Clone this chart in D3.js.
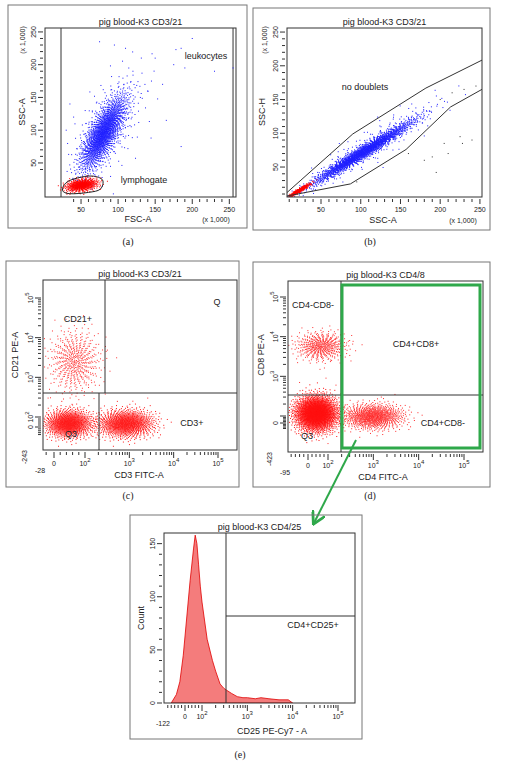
<!DOCTYPE html>
<html><head><meta charset="utf-8">
<script src="https://cdn.jsdelivr.net/npm/d3@7"></script>
<style>body{margin:0;background:#fff}text{font-family:"Liberation Sans",Arial,sans-serif;fill:#222}</style>
</head><body><svg id="fig" width="506" height="766"></svg>
<script>
// ---- data ----
// (a) FSC-A / SSC-A, values x1000; clusters given as value ranges (about +-2 sd)
var aClusters = [
  {x:[50,110], y:[40,150], n:1900, rho:0.75, col:"#1f1fff"},
  {x:[40,135], y:[20,190], n:260, rho:0.55, col:"#1f1fff"},
  {x:[30,72], y:[6,26], n:650, rho:0.3, col:"#ff0000"}
];
var aOutliers = [[75,235],[95,230],[110,225],[150,210],[175,200],[190,195],[185,225],[200,240],[160,170],[140,160],
  [130,150],[120,190],[230,190],[255,195],[165,115],[185,75],[145,175],[35,140],[40,120],[30,100],[212,213],[178,223]];
var aGate = [[25,8],[30,20],[45,27],[65,30],[79,24],[76,10],[60,5],[35,3]];
var aLines = [23,255];

// (b) SSC-A / SSC-H
var bClusters = [
  {x:[40,165], y:[25,118], n:2100, rho:0.975, col:"#1f1fff"},
  {x:[35,200], y:[20,150], n:200, rho:0.9, col:"#1f1fff"},
  {x:[9,36], y:[5,25], n:330, rho:0.95, col:"#ff0000"}
];
var bOutliers = [[180,60],[190,65],[205,85],[210,70],[225,95],[228,85],[240,90],[195,42],[160,70],[95,28],[255,145],[245,170],[230,165],[215,160],[200,150]];
var bUpper = [[7,12],[90,99],[182,167],[257,211]];
var bLower = [[7,7],[87,25],[157,76],[213,139],[257,168]];

// (c) CD3 FITC-A / CD21 PE-A
var cClusters = [
  {x:[-12,220], y:[400,16000], n:520, rho:0, col:"#ff3030"},
  {x:[-20,140], y:[-110,150], n:1300, rho:0, col:"#ff1a1a"},
  {x:[200,3500], y:[-110,150], n:1300, rho:0, col:"#ff1a1a"}
];
var cOutliers = [[300,4500],[310,3000],[290,6000],[1200,250],[2600,300],[4000,120],[60,200],[-15,300]];

// (d) CD4 FITC-A / CD8 PE-A
var dClusters = [
  {x:[-55,250], y:[2500,13000], n:520, rho:0, col:"#ff3030"},
  {x:[-60,160], y:[-120,320], n:2600, rho:0, col:"#ff1010"},
  {x:[220,4500], y:[-90,200], n:1000, rho:0, col:"#ff2a2a"}
];
var dOutliers = [[60,1500],[90,900],[120,2500],[150,600],[300,8000],[350,6500],[-40,700],[1500,300],[3000,350],[100,-300]];

// (e) CD25 PE-Cy7-A histogram
var eBins   = [-80,-50,-30,-10,10,30,50,60,70,80,90,100,130,170,200,250,300,350,450,600,800,1000,1500,2000,3000,5000,8000,10000];
var eCounts = [0,8,20,45,80,115,145,158,150,130,110,95,60,40,30,18,14,12,9,6,5,5,4,5,4,3,3,0];

var bxTicks = [0,100,1000,10000,100000];
var bxLabels = ["0","2","3","4","5"];

var svg = d3.select("#fig");

function biex(lo, pLo, p0, p100, p5) {
  var lin = d3.scaleLinear().domain([lo,0,100]).range([pLo,p0,p100]);
  var lg = d3.scaleLog().domain([100,1e5]).range([p100,p5]);
  return function(v){ return v <= 100 ? lin(v) : lg(v); };
}

// quasi-random (R2 sequence) gaussian cloud, deterministic
function cloud(g, sx, sy, c) {
  var x0 = sx(c.x[0]), x1 = sx(c.x[1]), y0 = sy(c.y[0]), y1 = sy(c.y[1]);
  var cx = (x0+x1)/2, cy = (y0+y1)/2, dx = Math.abs(x1-x0)/4, dy = Math.abs(y1-y0)/4;
  var pts = [];
  for (var i = 0; i < c.n; i++) {
    var q1 = (0.5 + i*0.7548776662) % 1, q2 = (0.5 + i*0.5698402910) % 1;
    var r = Math.sqrt(-2*Math.log(0.002 + q1*0.998));
    var th = 2*Math.PI*q2;
    var u = r*Math.cos(th), v = r*Math.sin(th);
    pts.push([cx + u*dx, cy - (c.rho*u + Math.sqrt(1-c.rho*c.rho)*v)*dy]);
  }
  g.append("g").selectAll("rect").data(pts).enter().append("rect")
    .attr("x", function(d){return d[0]-0.5;}).attr("y", function(d){return d[1]-0.5;})
    .attr("width",1).attr("height",1).attr("fill",c.col);
}

function frame(box, p, title) {
  svg.append("rect").attr("x",box[0]).attr("y",box[1]).attr("width",box[2]).attr("height",box[3])
    .attr("fill","none").attr("stroke","#777");
  var g = svg.append("g");
  g.append("defs").append("clipPath").attr("id","c"+p.x0).append("rect")
    .attr("x",p.x0).attr("y",p.y0).attr("width",p.x1-p.x0).attr("height",p.y1-p.y0);
  var inner = g.append("g").attr("clip-path","url(#c"+p.x0+")");
  g.append("rect").attr("x",p.x0).attr("y",p.y0).attr("width",p.x1-p.x0).attr("height",p.y1-p.y0)
    .attr("fill","none").attr("stroke","#333");
  g.append("text").attr("x",(p.x0+p.x1)/2).attr("y",p.y0-3).attr("text-anchor","middle")
    .attr("font-size",9).text(title);
  return {g:g, inner:inner};
}

function linTicks(g, p, sx, sy, from, to) {
  for (var v = 10; v <= 260; v += 10) {
    var big = v % 50 === 0;
    if (v >= from[0] && v <= to[0]) {
      g.append("line").attr("x1",sx(v)).attr("x2",sx(v)).attr("y1",p.y1+2).attr("y2",p.y1+(big?7:5)).attr("stroke","#333");
      if (big) g.append("text").attr("x",sx(v)).attr("y",p.y1+15).attr("text-anchor","middle").attr("font-size",7).text(v);
    }
    if (v >= from[1] && v <= to[1]) {
      g.append("line").attr("y1",sy(v)).attr("y2",sy(v)).attr("x1",p.x0-2).attr("x2",p.x0-(big?7:5)).attr("stroke","#333");
      if (big) g.append("text").attr("transform","translate("+(p.x0-9)+","+sy(v)+") rotate(-90)")
        .attr("text-anchor","middle").attr("font-size",7).text(v);
    }
  }
}

function biexTicks(g, p, sx, sy, lox, loy, skipY100) {
  var minors = [];
  for (var k = 100; k < 1e5; k *= 10) for (var m = 2; m <= 9; m++) minors.push(k*m);
  var lin = [-80,-60,-40,-20,20,40,60,80];
  minors.concat(lin).forEach(function(v){
    if (v > lox) g.append("line").attr("x1",sx(v)).attr("x2",sx(v)).attr("y1",p.y1+2).attr("y2",p.y1+5).attr("stroke","#333");
    if (v > loy) g.append("line").attr("y1",sy(v)).attr("y2",sy(v)).attr("x1",p.x0-2).attr("x2",p.x0-5).attr("stroke","#333");
  });
  bxTicks.forEach(function(v,i){
    g.append("line").attr("x1",sx(v)).attr("x2",sx(v)).attr("y1",p.y1+2).attr("y2",p.y1+8).attr("stroke","#333");
    g.append("line").attr("y1",sy(v)).attr("y2",sy(v)).attr("x1",p.x0-2).attr("x2",p.x0-8).attr("stroke","#333");
    var t = g.append("text").attr("x",sx(v)).attr("y",p.y1+16).attr("text-anchor","middle").attr("font-size",7);
    if (i === 0) t.text("0");
    else t.text("10").append("tspan").attr("dy",-4).attr("font-size",6).text(bxLabels[i]);
    if (skipY100 && i === 1) return;
    var ty = g.append("text").attr("transform","translate("+(p.x0-10)+","+sy(v)+") rotate(-90)").attr("text-anchor","middle").attr("font-size",7);
    if (i === 0) ty.text("0");
    else ty.text("10").append("tspan").attr("dy",-4).attr("font-size",6).text(bxLabels[i]);
  });
  g.append("text").attr("x",p.x0-3).attr("y",p.y1+23).attr("text-anchor","middle").attr("font-size",7).text(lox);
  g.append("text").attr("transform","translate("+(p.x0-16)+","+p.y1+") rotate(-90)").attr("text-anchor","end").attr("font-size",7).text(loy);
}

function label(g, x, y, s, size, rot) {
  var t = g.append("text").attr("font-size",size||9).attr("text-anchor","middle");
  if (rot) t.attr("transform","translate("+x+","+y+") rotate(-90)"); else t.attr("x",x).attr("y",y);
  t.text(s);
}
function dots(g, sx, sy, pts, col) {
  g.append("g").selectAll("rect").data(pts).enter().append("rect")
    .attr("x",function(d){return sx(d[0])-0.5;}).attr("y",function(d){return sy(d[1])-0.5;})
    .attr("width",1).attr("height",1).attr("fill",col);
}
function caption(x, y, s) {
  svg.append("text").attr("x",x).attr("y",y).attr("text-anchor","middle").attr("font-size",10)
    .style("font-family","Liberation Serif").text(s);
}

// ---------- (a) ----------
(function(){
  var p = {x0:45,x1:236,y0:28,y1:197};
  var sx = d3.scaleLinear().domain([1.4,259]).range([p.x0,p.x1]);
  var sy = d3.scaleLinear().domain([-2,256]).range([p.y1,p.y0]);
  var f = frame([8,5,239,223], p, "pig blood-K3 CD3/21");
  aLines.forEach(function(v){ f.inner.append("line").attr("x1",sx(v)).attr("x2",sx(v)).attr("y1",p.y0).attr("y2",p.y1).attr("stroke","#333"); });
  aClusters.forEach(function(c){ cloud(f.inner, sx, sy, c); });
  dots(f.inner, sx, sy, aOutliers, "#1f1fff");
  f.inner.append("path").datum(aGate).attr("d",d3.line().x(function(d){return sx(d[0]);}).y(function(d){return sy(d[1]);}).curve(d3.curveCardinalClosed))
    .attr("fill","none").attr("stroke","#222");
  linTicks(f.g, p, sx, sy, [40,40], [250,250]);
  label(f.g, 206, 59, "leukocytes");
  label(f.g, 144, 183, "lymphogate");
  label(f.g, 138, 222, "FSC-A");
  label(f.g, 216, 222, "(x 1,000)", 7);
  label(f.g, 25, 40, "(x 1,000)", 7, true);
  label(f.g, 25, 112, "SSC-A", 9, true);
  caption(128, 245, "(a)");
})();

// ---------- (b) ----------
(function(){
  var p = {x0:287,x1:482,y0:28,y1:197};
  var sx = d3.scaleLinear().domain([7.2,252.6]).range([p.x0,p.x1]);
  var sy = d3.scaleLinear().domain([5.6,256]).range([p.y1,p.y0]);
  var f = frame([253,8,237,222], p, "pig blood-K3 CD3/21");
  bClusters.forEach(function(c){ cloud(f.inner, sx, sy, c); });
  dots(f.inner, sx, sy, bOutliers, "#333");
  var ln = d3.line().x(function(d){return sx(d[0]);}).y(function(d){return sy(d[1]);});
  [bUpper,bLower].forEach(function(l){ f.inner.append("path").datum(l).attr("d",ln).attr("fill","none").attr("stroke","#333"); });
  linTicks(f.g, p, sx, sy, [10,10], [250,250]);
  label(f.g, 365, 90, "no doublets");
  label(f.g, 383, 223, "SSC-A");
  label(f.g, 463, 223, "(x 1,000)", 7);
  label(f.g, 267, 40, "(x 1,000)", 7, true);
  label(f.g, 265, 112, "SSC-H", 9, true);
  caption(370, 245, "(b)");
})();

// ---------- (c) ----------
(function(){
  var p = {x0:43,x1:237,y0:280,y1:450};
  var sx = biex(-28, 43, 54, 85, 218);
  var sy = biex(-243, 450, 427, 417, 298);
  var f = frame([6,261,233,226], p, "pig blood-K3 CD3/21");
  cClusters.forEach(function(c){ cloud(f.inner, sx, sy, c); });
  dots(f.inner, sx, sy, cOutliers, "#ff3030");
  var hy = 393;
  f.g.append("line").attr("x1",p.x0).attr("x2",p.x1).attr("y1",hy).attr("y2",hy).attr("stroke","#333");
  f.g.append("line").attr("x1",105).attr("x2",105).attr("y1",p.y0).attr("y2",hy).attr("stroke","#333");
  f.g.append("line").attr("x1",99).attr("x2",99).attr("y1",hy).attr("y2",p.y1).attr("stroke","#333");
  biexTicks(f.g, p, sx, sy, -28, -243, false);
  label(f.g, 217, 305, "Q");
  label(f.g, 78, 322, "CD21+");
  label(f.g, 192, 426, "CD3+");
  label(f.g, 71, 437, "Q3");
  label(f.g, 139, 478, "CD3 FITC-A");
  label(f.g, 18, 355, "CD21 PE-A", 9, true);
  caption(128, 499, "(c)");
})();

// ---------- (d) ----------
(function(){
  var p = {x0:288,x1:483,y0:281,y1:452};
  var sx = biex(-95, 288, 308, 328, 464);
  var sy = biex(-423, 452, 423, 416, 297);
  var f = frame([253,262,237,225], p, "pig blood-K3 CD4/8");
  dClusters.forEach(function(c){ cloud(f.inner, sx, sy, c); });
  dots(f.inner, sx, sy, dOutliers, "#ff3030");
  f.g.append("line").attr("x1",p.x0).attr("x2",p.x1).attr("y1",395).attr("y2",395).attr("stroke","#333");
  f.g.append("line").attr("x1",341).attr("x2",341).attr("y1",p.y0).attr("y2",p.y1).attr("stroke","#333");
  f.g.append("rect").attr("x",342).attr("y",285).attr("width",138).attr("height",163)
    .attr("fill","none").attr("stroke","#2ea84a").attr("stroke-width",3);
  biexTicks(f.g, p, sx, sy, -95, -423, true);
  label(f.g, 313, 308, "CD4-CD8-");
  label(f.g, 416, 347, "CD4+CD8+");
  label(f.g, 443, 426, "CD4+CD8-");
  label(f.g, 307, 439, "Q3");
  label(f.g, 383, 480, "CD4 FITC-A");
  label(f.g, 264, 355, "CD8 PE-A", 9, true);
  caption(370, 499, "(d)");
})();

// ---------- arrow ----------
svg.append("defs").append("marker").attr("id","ah").attr("viewBox","0 0 10 10").attr("refX",8).attr("refY",5)
  .attr("markerWidth",7).attr("markerHeight",7).attr("orient","auto")
  .append("path").attr("d","M0,0 L9,5 L0,10").attr("fill","none").attr("stroke","#2ea84a").attr("stroke-width",2);
svg.append("line").attr("x1",356).attr("y1",440).attr("x2",314).attr("y2",523)
  .attr("stroke","#2ea84a").attr("stroke-width",2).attr("marker-end","url(#ah)");

// ---------- (e) ----------
(function(){
  var p = {x0:164,x1:355,y0:533,y1:703};
  var sx = biex(-122, 164, 185, 202, 338);
  var sy = d3.scaleLinear().domain([0,160]).range([p.y1,p.y0]);
  var f = frame([130,515,232,224], p, "pig blood-K3 CD4/25");
  var data = eBins.map(function(b,i){ return [b, eCounts[i]]; });
  f.inner.append("path").datum(data)
    .attr("d", d3.area().x(function(d){return sx(d[0]);}).y0(p.y1).y1(function(d){return sy(d[1]);}))
    .attr("fill","#f47c7c").attr("stroke","#e00000").attr("stroke-width",0.8);
  f.g.append("line").attr("x1",226).attr("x2",226).attr("y1",p.y0).attr("y2",p.y1).attr("stroke","#333");
  f.g.append("line").attr("x1",226).attr("x2",p.x1).attr("y1",616).attr("y2",616).attr("stroke","#333");
  var minors = [];
  for (var k = 100; k < 1e5; k *= 10) for (var m = 2; m <= 9; m++) minors.push(k*m);
  minors.concat([-100,-80,-60,-40,-20,20,40,60,80]).forEach(function(v){
    f.g.append("line").attr("x1",sx(v)).attr("x2",sx(v)).attr("y1",p.y1+2).attr("y2",p.y1+5).attr("stroke","#333");
  });
  bxTicks.forEach(function(v,i){
    f.g.append("line").attr("x1",sx(v)).attr("x2",sx(v)).attr("y1",p.y1+2).attr("y2",p.y1+8).attr("stroke","#333");
    var t = f.g.append("text").attr("x",sx(v)).attr("y",p.y1+16).attr("text-anchor","middle").attr("font-size",7);
    if (i === 0) t.text("0"); else t.text("10").append("tspan").attr("dy",-4).attr("font-size",6).text(bxLabels[i]);
  });
  f.g.append("text").attr("x",p.x0-1).attr("y",p.y1+23).attr("text-anchor","middle").attr("font-size",7).text("-122");
  for (var v = 0; v <= 150; v += 10) {
    var big = v % 50 === 0;
    f.g.append("line").attr("y1",sy(v)).attr("y2",sy(v)).attr("x1",p.x0-2).attr("x2",p.x0-(big?7:5)).attr("stroke","#333");
    if (big) f.g.append("text").attr("transform","translate("+(p.x0-9)+","+sy(v)+") rotate(-90)")
      .attr("text-anchor","middle").attr("font-size",7).text(v);
  }
  label(f.g, 313, 628, "CD4+CD25+");
  label(f.g, 272, 734, "CD25  PE-Cy7 - A");
  label(f.g, 144, 618, "Count", 9, true);
  caption(240, 758, "(e)");
})();
</script></body></html>
